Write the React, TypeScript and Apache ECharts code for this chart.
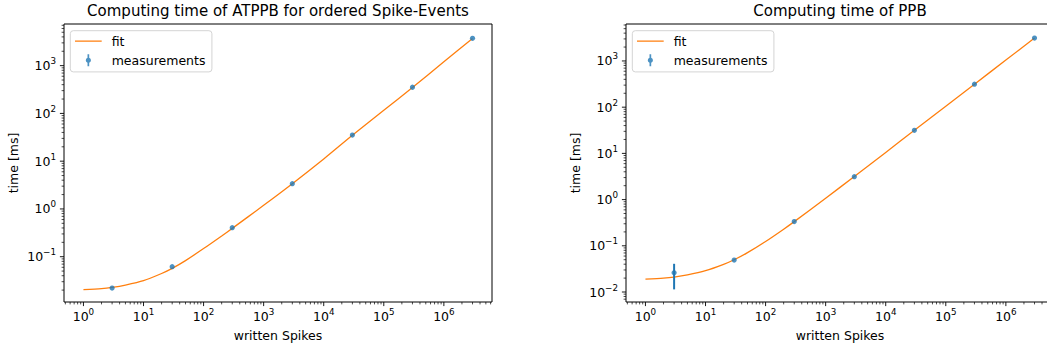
import React, { useEffect, useRef } from "react";
import * as echarts from "echarts";

// ---- data ----
const spikes = [3, 30, 300, 3000, 30000, 300000, 3000000];
const fitSpikes = [1, 2, 3, 5, 10, 20, 30, 50, 100, 200, 300, 1000, 3000, 10000, 30000, 100000, 300000, 1000000, 3000000];

const atppbTimes = [0.0221, 0.0618, 0.405, 3.38, 35.3, 353, 3740];
const atppbFit = [0.0205, 0.0215, 0.0228, 0.0255, 0.0315, 0.0445, 0.057, 0.083, 0.148, 0.272, 0.392, 1.19, 3.37, 11.1, 34.8, 116, 348, 1200, 3720];

const ppbTimes = [0.0261, 0.049, 0.335, 3.14, 31.6, 314, 3140];
const ppbFit = [0.019, 0.02, 0.0211, 0.0235, 0.029, 0.0398, 0.05, 0.071, 0.124, 0.229, 0.334, 1.07, 3.16, 10.5, 31.6, 105, 314, 1047, 3140];
const ppbErrSpikes = [3];
const ppbErrLow = [0.0114];
const ppbErrHigh = [0.0408];

const titles = ["Computing time of ATPPB for ordered Spike-Events", "Computing time of PPB"];
const xAxisName = "written Spikes";
const yAxisName = "time [ms]";
const legendNames = ["fit", "measurements"];

// axis ranges (log axes)
const X_RANGE = [0.4745, 6.33e6];
const Y_RANGES = [
  [0.01127, 7447],
  [0.00608, 6310],
];

const BLUE = "#1f77b4";
const ORANGE = "#ff7f0e";
const FONT = "DejaVu Sans";

const FIT_ICON = "path://M0,5.4 H26.7 V6.6 H0 Z M0,0 L0.01,0 Z M31.7,12 L31.69,12 Z";
const MEAS_ICON =
  "path://M12.5,0 H14.2 V3.543 A2.6,2.6 0 0 1 14.2,8.457 V12 H12.5 V8.457 A2.6,2.6 0 0 1 12.5,3.543 Z M0,0 L0.01,0 Z M31.7,12 L31.69,12 Z";

function logTicks(min: number, max: number) {
  const major: number[] = [];
  const minor: number[] = [];
  for (let k = Math.floor(Math.log10(min)); k <= Math.ceil(Math.log10(max)); k++) {
    for (let m = 1; m <= 9; m++) {
      const v = m * Math.pow(10, k);
      if (v >= min && v <= max) (m === 1 ? major : minor).push(v);
    }
  }
  return { major, minor };
}

function supLabel(value: number) {
  const e = Math.round(Math.log10(value));
  const s = e < 0 ? "\u2212" + -e : String(e);
  return "{b|10}{s|" + s + "}";
}

function tickSeries(g: number, axis: "x" | "y", values: number[], other: number, len: number, width: number) {
  return {
    type: "custom",
    xAxisIndex: g,
    yAxisIndex: g,
    clip: false,
    silent: true,
    z: 10,
    data: values.map((v) => (axis === "x" ? [v, other] : [other, v])),
    renderItem: (_p: any, api: any) => {
      const p = api.coord([api.value(0), api.value(1)]);
      const shape =
        axis === "x"
          ? { x1: p[0], y1: p[1], x2: p[0], y2: p[1] + len }
          : { x1: p[0] - len, y1: p[1], x2: p[0], y2: p[1] };
      return { type: "line", shape, style: { stroke: "#000", lineWidth: width } };
    },
  };
}

export default function App() {
  const ref = useRef<HTMLDivElement>(null);

  useEffect(() => {
    document.body.style.margin = "0";
    const chart = echarts.init(ref.current!, null, { renderer: "svg" });

    const gridLefts = [64, 626];
    const gridW = 428;
    const gridTop = 24;
    const gridH = 278;

    const labelRich = {
      b: { fontFamily: FONT, fontSize: 12.5, lineHeight: 18, color: "#000" },
      s: { fontFamily: FONT, fontSize: 8.75, lineHeight: 8, verticalAlign: "top", color: "#000" },
    };

    const grids: any[] = [];
    const xAxes: any[] = [];
    const yAxes: any[] = [];
    const series: any[] = [];
    const titleArr: any[] = [];
    const legends: any[] = [];

    const fits = [atppbFit, ppbFit];
    const meas = [atppbTimes, ppbTimes];

    for (let g = 0; g < 2; g++) {
      grids.push({
        left: gridLefts[g],
        top: gridTop,
        width: gridW,
        height: gridH,
        show: true,
        borderColor: "#000",
        borderWidth: 1,
        backgroundColor: "transparent",
        containLabel: false,
        outerBoundsMode: "none",
      });
      titleArr.push({
        text: titles[g],
        left: gridLefts[g] + gridW / 2,
        textAlign: "center",
        top: 3,
        padding: 0,
        textStyle: { fontFamily: FONT, fontSize: 15, fontWeight: "normal", color: "#000" },
      });
      xAxes.push({
        type: "log",
        gridIndex: g,
        min: X_RANGE[0],
        max: X_RANGE[1],
        splitNumber: 6,
        name: xAxisName,
        nameLocation: "middle",
        nameGap: 27,
        nameTextStyle: { fontFamily: FONT, fontSize: 12.5, color: "#000" },
        axisLine: { show: false },
        axisTick: { show: false },
        splitLine: { show: false },
        axisLabel: {
          interval: 0,
          margin: 5,
          showMinLabel: false,
          showMaxLabel: false,
          formatter: supLabel,
          rich: labelRich,
        },
      });
      yAxes.push({
        type: "log",
        gridIndex: g,
        min: Y_RANGES[g][0],
        max: Y_RANGES[g][1],
        splitNumber: 6,
        name: yAxisName,
        nameLocation: "middle",
        nameGap: 44,
        nameTextStyle: { fontFamily: FONT, fontSize: 12.5, color: "#000" },
        axisLine: { show: false },
        axisTick: { show: false },
        splitLine: { show: false },
        axisLabel: {
          interval: 0,
          margin: 8,
          showMinLabel: false,
          showMaxLabel: false,
          formatter: supLabel,
          rich: labelRich,
        },
      });

      const xt = logTicks(X_RANGE[0], X_RANGE[1]);
      const yt = logTicks(Y_RANGES[g][0], Y_RANGES[g][1]);
      series.push(tickSeries(g, "x", xt.major, Y_RANGES[g][0], 4.1, 0.9));
      series.push(tickSeries(g, "x", xt.minor, Y_RANGES[g][0], 2.4, 0.7));
      series.push(tickSeries(g, "y", yt.major, X_RANGE[0], 4.1, 0.9));
      series.push(tickSeries(g, "y", yt.minor, X_RANGE[0], 2.4, 0.7));

      series.push({
        name: legendNames[0],
        type: "line",
        xAxisIndex: g,
        yAxisIndex: g,
        symbol: "none",
        showSymbol: false,
        smooth: 0.25,
        color: ORANGE,
        lineStyle: { color: ORANGE, width: 1.3 },
        z: 3,
        data: fitSpikes.map((x, i) => [x, fits[g][i]]),
      });
      series.push({
        name: legendNames[1],
        type: "scatter",
        xAxisIndex: g,
        yAxisIndex: g,
        symbol: "circle",
        symbolSize: 5.2,
        color: BLUE,
        itemStyle: { color: BLUE },
        z: 4,
        data: spikes.map((x, i) => [x, meas[g][i]]),
      });

      legends.push({
        left: g === 0 ? 70.3 : 632.3,
        top: 30.7,
        orient: "vertical",
        itemWidth: 31.7,
        itemHeight: 12,
        itemGap: 4,
        padding: [3, 6.5, 4.2, 4.7],
        backgroundColor: "rgba(255,255,255,0.8)",
        borderColor: "#d4d4d4",
        borderWidth: 1,
        borderRadius: 3,
        selectedMode: false,
        itemStyle: { borderWidth: 0 },
        textStyle: { fontFamily: FONT, fontSize: 12.5, lineHeight: 15, color: "#000" },
        data: [
          { name: legendNames[0], icon: FIT_ICON, itemStyle: { color: ORANGE, borderWidth: 0 } },
          { name: legendNames[1], icon: MEAS_ICON, itemStyle: { color: BLUE, borderWidth: 0 } },
        ],
      });
    }

    // error bars (right plot)
    series.push({
      type: "custom",
      xAxisIndex: 1,
      yAxisIndex: 1,
      silent: true,
      z: 4,
      data: ppbErrSpikes.map((x, i) => [x, ppbErrLow[i], ppbErrHigh[i]]),
      renderItem: (_p: any, api: any) => {
        const a = api.coord([api.value(0), api.value(1)]);
        const b = api.coord([api.value(0), api.value(2)]);
        return {
          type: "line",
          shape: { x1: a[0], y1: a[1], x2: b[0], y2: b[1] },
          style: { stroke: BLUE, lineWidth: 2 },
        };
      },
    });

    chart.setOption({
      animation: false,
      backgroundColor: "#fff",
      textStyle: { fontFamily: FONT },
      title: titleArr,
      grid: grids,
      xAxis: xAxes,
      yAxis: yAxes,
      legend: legends,
      series,
    });

    return () => chart.dispose();
  }, []);

  return <div ref={ref} style={{ width: 1047, height: 353 }} />;
}
